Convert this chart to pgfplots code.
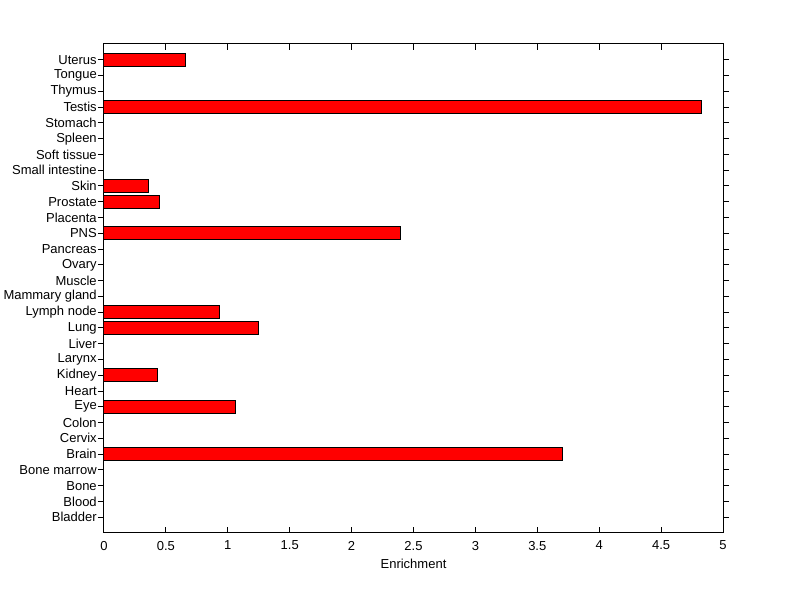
\documentclass[border=0pt]{standalone}
\usepackage{fontspec}
\setmainfont{Liberation Sans}
\usepackage{pgfplots}
\pgfplotsset{compat=1.18}
\begin{document}
\begin{tikzpicture}
\fontsize{9.75}{11}\selectfont
\path[use as bounding box] (-78pt,-49.5pt) rectangle (522pt,399.75pt);
\begin{axis}[
  at={(0,0)}, anchor=south west,
  scale only axis,
  width=464.25pt, height=366.75pt,
  xmin=0, xmax=5, ymin=0, ymax=31,
  xtick={0,0.5,...,5},
  xticklabels={0,0.5,1,1.5,2,2.5,3,3.5,4,4.5,5},
  ytick={1,...,30},
  yticklabels={Bladder,Blood,Bone,Bone marrow,Brain,Cervix,Colon,Eye,Heart,Kidney,Larynx,Liver,Lung,Lymph node,Mammary gland,Muscle,Ovary,Pancreas,PNS,Placenta,Prostate,Skin,Small intestine,Soft tissue,Spleen,Stomach,Testis,Thymus,Tongue,Uterus},
  tick align=inside,
  major tick length=4.5pt,
  tick style={black, line width=0.75pt},
  axis line style={line width=0.75pt},
  xticklabel style={font=\fontsize{9.75}{11}\selectfont, yshift=-2.5pt},
  yticklabel style={font=\fontsize{9.75}{11}\selectfont, xshift=2.5pt},
  /pgf/number format/assume math mode=true,
  xlabel={Enrichment},
  xlabel style={font=\fontsize{9.75}{11}\selectfont, yshift=0pt},
  xbar, bar width=0.8,
]
\addplot[fill=red, draw=black, line width=0.75pt] coordinates {
  (0.657,30)
  (4.83,27)
  (0.359,22)
  (0.447,21)
  (2.394,19)
  (0.932,14)
  (1.247,13)
  (0.431,10)
  (1.061,8)
  (3.702,5)
};
\end{axis}
\end{tikzpicture}
\end{document}
